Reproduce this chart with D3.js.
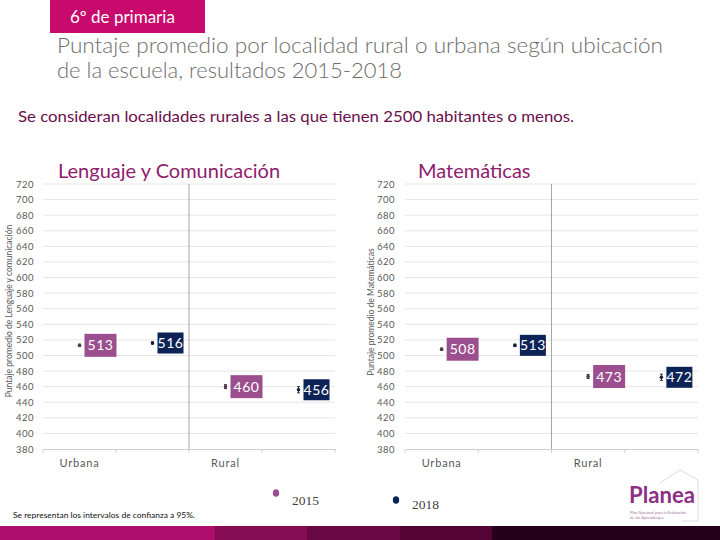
<!DOCTYPE html>
<html><head><meta charset="utf-8">
<script src="https://cdn.jsdelivr.net/npm/d3@7"></script>
<style>body{margin:0;background:#fff}svg{display:block}</style>
</head><body>
<script>
const categories = ["Urbana", "Rural"];
const series = ["2015", "2018"];
const lenguaje = [[513, 516], [460, 456]];   // [category][series]
const matematicas = [[508, 513], [473, 472]];
const lenguajeCI = [[1.5, 1.5], [2.5, 4]];
const matematicasCI = [[1.5, 1.5], [2.5, 4]];
const yTicks = [380,400,420,440,460,480,500,520,540,560,580,600,620,640,660,680,700,720];
const colors = ["#9b4f8f", "#0b2356"];

const W = 720, H = 540;
const svg = d3.select("body").append("svg").attr("width", W).attr("height", H)
  .style("font-family", "Lato, 'Open Sans', sans-serif");

// header
svg.append("rect").attr("x", 50).attr("y", 0).attr("width", 155).attr("height", 33).attr("fill", "#c70a6c");
svg.append("text").attr("x", 70).attr("y", 23).attr("fill", "#fff").attr("font-size", 17).text("6º de primaria");
svg.append("text").attr("x", 57).attr("y", 53).attr("fill", "#6d6d6d").attr("font-size", 21).attr("font-weight", 300)
  .attr("textLength", 606).attr("lengthAdjust", "spacingAndGlyphs")
  .text("Puntaje promedio por localidad rural o urbana según ubicación");
svg.append("text").attr("x", 57).attr("y", 78).attr("fill", "#6d6d6d").attr("font-size", 21).attr("font-weight", 300)
  .attr("textLength", 345).attr("lengthAdjust", "spacingAndGlyphs")
  .text("de la escuela, resultados 2015-2018");
svg.append("text").attr("x", 18).attr("y", 122).attr("fill", "#6b0f4b").attr("font-size", 15)
  .attr("textLength", 556).attr("lengthAdjust", "spacingAndGlyphs")
  .text("Se consideran localidades rurales a las que tienen 2500 habitantes o menos.");

function panel(cfg) {
  const y = d3.scaleLinear().domain([380, 720]).range([449, 184]);
  const slots = [];
  categories.forEach(c => series.forEach(s => slots.push(c + "|" + s)));
  const x = d3.scaleBand().domain(slots).range([cfg.x0, cfg.x1]);
  const g = svg.append("g");
  // gridlines
  g.selectAll("line.grid").data(yTicks.filter(t => t > 380)).enter().append("line")
    .attr("x1", cfg.x0).attr("x2", cfg.x1).attr("y1", d => y(d)).attr("y2", d => y(d))
    .attr("stroke", "#e6e6e6").attr("stroke-width", 1);
  // y axis labels
  const ya = d3.axisLeft(y).tickValues(yTicks).tickSize(0).tickPadding(0);
  const yg = g.append("g").attr("transform", `translate(${cfg.labelX},0)`).call(ya);
  yg.select(".domain").remove();
  yg.selectAll("text").attr("fill", "#595959").attr("font-size", 9.5).attr("letter-spacing", 0.5)
    .style("font-family", "Lato, sans-serif");
  // x axis
  const xa = d3.axisBottom(x).tickSize(0).tickFormat(d => d.endsWith("|2015") ? d.split("|")[0] : "");
  const xg = g.append("g").attr("transform", `translate(0,${y(380)})`).call(xa);
  xg.select(".domain").attr("stroke", "#d0d0d0");
  xg.selectAll("text").attr("fill", "#595959").attr("font-size", 11).attr("dy", 0).attr("y", 18)
    .attr("letter-spacing", 0.8).style("font-family", "Lato, sans-serif");
  // tick marks at band boundaries
  const bounds = slots.map(s => x(s)).concat([cfg.x1]);
  g.selectAll("line.tk").data(bounds).enter().append("line")
    .attr("x1", d => d).attr("x2", d => d).attr("y1", y(380)).attr("y2", y(380) + 4)
    .attr("stroke", "#d0d0d0");
  // separator
  g.append("line").attr("x1", x(categories[1] + "|2015")).attr("x2", x(categories[1] + "|2015"))
    .attr("y1", y(720)).attr("y2", y(380)).attr("stroke", "#a6a6a6");
  // axis title
  g.append("text").attr("transform", `translate(${cfg.titleX},${cfg.titleY}) rotate(-90)`)
    .attr("text-anchor", "middle").attr("fill", "#595959").attr("font-size", 8.5)
    .text(cfg.ytitle);
  // chart title
  g.append("text").attr("x", cfg.headX).attr("y", 178).attr("fill", "#8f1b6d").attr("font-size", 20)
    .text(cfg.title);
  // points
  categories.forEach((c, ci) => series.forEach((s, si) => {
    const v = cfg.data[ci][si], e = cfg.ci[ci][si];
    const cx = x(c + "|" + s) + x.bandwidth() / 2;
    g.append("line").attr("x1", cx).attr("x2", cx).attr("y1", y(v - e)).attr("y2", y(v + e))
      .attr("stroke", "#333").attr("stroke-width", 1);
    g.append("line").attr("x1", cx - 1.5).attr("x2", cx + 1.5).attr("y1", y(v - e)).attr("y2", y(v - e)).attr("stroke", "#333");
    g.append("line").attr("x1", cx - 1.5).attr("x2", cx + 1.5).attr("y1", y(v + e)).attr("y2", y(v + e)).attr("stroke", "#333");
    g.append("circle").attr("cx", cx).attr("cy", y(v)).attr("r", 1.8).attr("fill", si === 0 ? "#5a3a5a" : "#1a1a3a");
    const bw = si === 0 ? 32 : 26, bh = si === 0 ? 23 : 21;
    g.append("rect").attr("x", cx + 5).attr("y", y(v) - bh / 2).attr("width", bw).attr("height", bh)
      .attr("fill", colors[si]);
    g.append("text").attr("x", cx + 5 + bw / 2).attr("y", y(v) + 5).attr("text-anchor", "middle")
      .attr("fill", "#fff").attr("font-size", 14).attr("letter-spacing", 0.5).text(v);
  }));
}

panel({x0: 43, x1: 335, labelX: 34, titleX: 12, titleY: 311, headX: 58,
  ytitle: "Puntaje promedio de Lenguaje y comunicación", title: "Lenguaje y Comunicación",
  data: lenguaje, ci: lenguajeCI});
panel({x0: 405, x1: 698, labelX: 395, titleX: 373.5, titleY: 312, headX: 418,
  ytitle: "Puntaje promedio de Matemáticas", title: "Matemáticas",
  data: matematicas, ci: matematicasCI});

// legend
const legPos = [[276, 493, 292, 505], [396, 500, 412, 509]];
series.forEach((s, i) => {
  svg.append("ellipse").attr("cx", legPos[i][0]).attr("cy", legPos[i][1]).attr("rx", 3.2).attr("ry", 3.8).attr("fill", colors[i]);
  svg.append("text").attr("x", legPos[i][2]).attr("y", legPos[i][3]).attr("fill", "#404040")
    .attr("font-size", 13).style("font-family", "'Liberation Serif', serif")
    .attr("textLength", 27).attr("lengthAdjust", "spacingAndGlyphs").text(s);
});

// footnote
svg.append("text").attr("x", 13).attr("y", 518).attr("font-size", 7.5).attr("fill", "#111")
  .attr("textLength", 182).attr("lengthAdjust", "spacingAndGlyphs")
  .text("Se representan los intervalos de confianza a 95%.");

// logo
svg.append("path").attr("d", "M682,521 L698,521 L698,480 L680,470 L660,483").attr("fill", "none").attr("stroke", "#ddd").attr("stroke-width", 1);
svg.append("text").attr("x", 629).attr("y", 503).attr("fill", "#8b2f86").attr("font-size", 22).attr("font-weight", 700)
  .attr("textLength", 66).attr("lengthAdjust", "spacingAndGlyphs").text("Planea");
svg.append("text").attr("x", 630).attr("y", 514).attr("fill", "#a07aa0").attr("font-size", 4)
  .text("Plan Nacional para la Evaluación");
svg.append("text").attr("x", 630).attr("y", 519).attr("fill", "#a07aa0").attr("font-size", 4)
  .text("de los Aprendizajes");

// bottom bar
const barSegs = [[0, 215, "#ad0e6e"], [215, 307, "#850b53"], [307, 400, "#690744"], [400, 492, "#540434"], [492, 720, "#25001a"]];
svg.selectAll("rect.bar").data(barSegs).enter().append("rect")
  .attr("x", d => d[0]).attr("width", d => d[1] - d[0]).attr("y", 526).attr("height", 14).attr("fill", d => d[2]);
</script>
</body></html>
